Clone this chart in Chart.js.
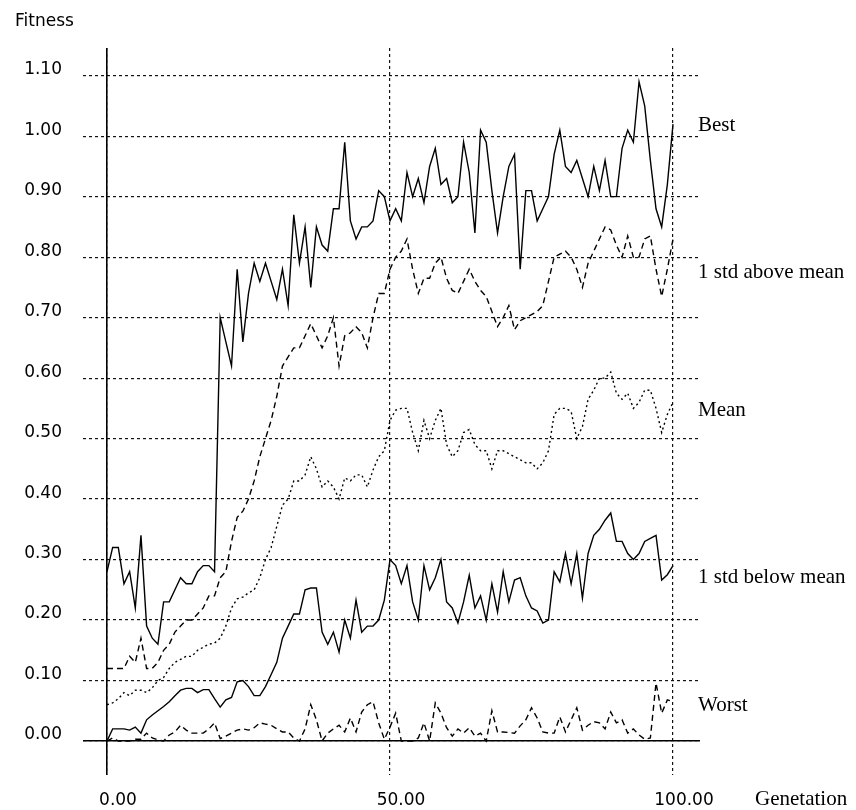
<!DOCTYPE html>
<html lang="en">
<head>
    <meta charset="UTF-8">
    <title>Fitness by Generation</title>
    <script src="https://cdn.jsdelivr.net/npm/chart.js"></script>
    <style>
        body { margin: 0; background: #fff; }
        canvas { display: block; }
    </style>
</head>
<body>

<canvas id="fitnessChart" width="856" height="810"></canvas>

<script>
// generations 0..100
const generations = [
    0, 1, 2, 3, 4, 5, 6, 7, 8, 9, 10, 11, 12, 13, 14, 15, 16, 17, 18, 19,
    20, 21, 22, 23, 24, 25, 26, 27, 28, 29, 30, 31, 32, 33, 34, 35, 36, 37, 38, 39,
    40, 41, 42, 43, 44, 45, 46, 47, 48, 49, 50, 51, 52, 53, 54, 55, 56, 57, 58, 59,
    60, 61, 62, 63, 64, 65, 66, 67, 68, 69, 70, 71, 72, 73, 74, 75, 76, 77, 78, 79,
    80, 81, 82, 83, 84, 85, 86, 87, 88, 89, 90, 91, 92, 93, 94, 95, 96, 97, 98, 99, 100
];

const best = [
    0.28, 0.32, 0.32, 0.26, 0.28, 0.22, 0.34, 0.19, 0.17, 0.16,
    0.23, 0.23, 0.25, 0.27, 0.26, 0.26, 0.28, 0.29, 0.29, 0.28,
    0.70, 0.66, 0.62, 0.78, 0.66, 0.74, 0.79, 0.76, 0.79, 0.76,
    0.73, 0.78, 0.72, 0.87, 0.79, 0.85, 0.75, 0.85, 0.82, 0.81,
    0.88, 0.88, 0.99, 0.86, 0.83, 0.85, 0.85, 0.86, 0.91, 0.90,
    0.86, 0.88, 0.86, 0.94, 0.90, 0.93, 0.89, 0.95, 0.98, 0.92,
    0.93, 0.89, 0.90, 0.99, 0.94, 0.84, 1.01, 0.99, 0.91, 0.84,
    0.90, 0.95, 0.97, 0.78, 0.91, 0.91, 0.86, 0.88, 0.90, 0.97,
    1.01, 0.95, 0.94, 0.96, 0.93, 0.90, 0.95, 0.91, 0.96, 0.90,
    0.90, 0.98, 1.01, 0.99, 1.09, 1.05, 0.96, 0.88, 0.85, 0.92, 1.02
];

const stdAbove = [
    0.12, 0.12, 0.12, 0.12, 0.14, 0.13, 0.17, 0.12, 0.12, 0.13,
    0.15, 0.16, 0.18, 0.19, 0.20, 0.20, 0.21, 0.22, 0.24, 0.24,
    0.27, 0.28, 0.33, 0.37, 0.38, 0.40, 0.43, 0.47, 0.50, 0.53,
    0.57, 0.62, 0.635, 0.65, 0.65, 0.67, 0.69, 0.67, 0.65, 0.67,
    0.70, 0.62, 0.67, 0.675, 0.685, 0.675, 0.65, 0.70, 0.74, 0.74,
    0.78, 0.80, 0.81, 0.83, 0.78, 0.74, 0.765, 0.765, 0.79, 0.80,
    0.765, 0.745, 0.74, 0.76, 0.78, 0.76, 0.745, 0.735, 0.71, 0.685,
    0.70, 0.72, 0.68, 0.695, 0.70, 0.705, 0.71, 0.72, 0.76, 0.80,
    0.805, 0.81, 0.80, 0.78, 0.75, 0.79, 0.81, 0.83, 0.85, 0.845,
    0.82, 0.80, 0.835, 0.80, 0.80, 0.83, 0.835, 0.78, 0.735, 0.78, 0.83
];

const mean = [
    0.06, 0.063, 0.07, 0.08, 0.075, 0.084, 0.084, 0.08, 0.088, 0.10,
    0.105, 0.12, 0.13, 0.135, 0.14, 0.14, 0.15, 0.155, 0.16, 0.162,
    0.17, 0.19, 0.22, 0.235, 0.238, 0.245, 0.25, 0.27, 0.30, 0.32,
    0.355, 0.39, 0.40, 0.43, 0.43, 0.44, 0.47, 0.45, 0.42, 0.43,
    0.42, 0.40, 0.435, 0.43, 0.44, 0.44, 0.42, 0.448, 0.47, 0.48,
    0.53, 0.547, 0.55, 0.55, 0.51, 0.48, 0.53, 0.50, 0.53, 0.55,
    0.49, 0.47, 0.48, 0.51, 0.515, 0.49, 0.48, 0.48, 0.45, 0.48,
    0.48, 0.475, 0.47, 0.465, 0.46, 0.46, 0.45, 0.46, 0.48, 0.54,
    0.55, 0.55, 0.545, 0.50, 0.52, 0.565, 0.58, 0.60, 0.60, 0.61,
    0.575, 0.565, 0.575, 0.55, 0.56, 0.58, 0.58, 0.55, 0.51, 0.54, 0.56
];

const stdBelow = [
    0.0, 0.02, 0.02, 0.02, 0.018, 0.023, 0.013, 0.035, 0.043, 0.05,
    0.057, 0.065, 0.075, 0.084, 0.087, 0.087, 0.08, 0.085, 0.085, 0.07,
    0.056, 0.068, 0.072, 0.098, 0.10, 0.09, 0.075, 0.075, 0.09, 0.11,
    0.13, 0.17, 0.19, 0.21, 0.21, 0.25, 0.253, 0.253, 0.18, 0.16,
    0.18, 0.147, 0.20, 0.17, 0.233, 0.18, 0.19, 0.19, 0.20, 0.233,
    0.30, 0.29, 0.26, 0.29, 0.23, 0.20, 0.29, 0.25, 0.27, 0.30,
    0.23, 0.22, 0.195, 0.23, 0.274, 0.22, 0.24, 0.20, 0.26, 0.213,
    0.28, 0.23, 0.266, 0.27, 0.24, 0.22, 0.215, 0.195, 0.20, 0.28,
    0.263, 0.31, 0.26, 0.31, 0.236, 0.31, 0.34, 0.35, 0.365, 0.377,
    0.33, 0.33, 0.31, 0.30, 0.31, 0.33, 0.335, 0.34, 0.266, 0.275, 0.29
];

const worst = [
    0.0, 0.005, 0.0, 0.0, 0.0, 0.003, 0.003, 0.013, 0.005, 0.002,
    0.0, 0.01, 0.015, 0.026, 0.018, 0.013, 0.013, 0.013, 0.02, 0.03,
    0.004, 0.008, 0.013, 0.018, 0.02, 0.018, 0.022, 0.03, 0.028, 0.026,
    0.02, 0.015, 0.015, 0.005, 0.0, 0.02, 0.06, 0.035, 0.0, 0.013,
    0.02, 0.026, 0.015, 0.038, 0.015, 0.048, 0.06, 0.065, 0.03, 0.003,
    0.023, 0.046, 0.0, 0.0, 0.0, 0.005, 0.03, 0.0, 0.063, 0.046,
    0.022, 0.008, 0.02, 0.013, 0.022, 0.008, 0.013, 0.0, 0.05, 0.015,
    0.015, 0.014, 0.013, 0.025, 0.035, 0.055, 0.038, 0.015, 0.013, 0.013,
    0.04, 0.015, 0.035, 0.055, 0.018, 0.026, 0.032, 0.03, 0.02, 0.048,
    0.03, 0.035, 0.013, 0.02, 0.01, 0.003, 0.005, 0.096, 0.046, 0.068, 0.065
];

const xTicks = [0, 50, 100];
const yTicks = [0, 0.1, 0.2, 0.3, 0.4, 0.5, 0.6, 0.7, 0.8, 0.9, 1.0, 1.1];

// pair every series with the generation numbers
function points(values) {
    return generations.map((g, i) => ({ x: g, y: values[i] }));
}

function line(label, values, dash) {
    return {
        label: label,
        data: points(values),
        borderColor: '#000',
        borderWidth: 1.4,
        borderDash: dash,
        pointRadius: 0,
        tension: 0,
        fill: false,
        xAxisID: 'x',
        yAxisID: 'y'
    };
}

const numFont = { family: 'DejaVu Sans', size: 17 };

// texts to the right of the plot and the two axis names
const textPlugin = {
    id: 'texts',
    afterDraw(chart) {
        const ctx = chart.ctx;
        ctx.save();
        ctx.fillStyle = '#000';
        ctx.textBaseline = 'middle';
        ctx.textAlign = 'left';
        ctx.font = '21px "Liberation Serif"';
        ctx.fillText('Best', 698, 125);
        ctx.fillText('1 std above mean', 698, 272);
        ctx.fillText('Mean', 698, 410);
        ctx.fillText('1 std below mean', 698, 577);
        ctx.fillText('Worst', 698, 705);
        ctx.fillText('Genetation', 755, 799);
        ctx.font = '17px "DejaVu Sans"';
        ctx.fillText('Fitness', 15, 22);
        ctx.restore();
    }
};

const ctx = document.getElementById('fitnessChart').getContext('2d');
const chart = new Chart(ctx, {
    type: 'line',
    data: {
        datasets: [
            line('Best', best, []),
            line('1 std above mean', stdAbove, [6, 4]),
            line('Mean', mean, [2, 3]),
            line('1 std below mean', stdBelow, []),
            line('Worst', worst, [6, 4])
        ]
    },
    options: {
        responsive: false,
        animation: false,
        layout: { padding: { top: 48, right: 156, left: 0, bottom: 0 } },
        plugins: {
            legend: { display: false },
            tooltip: { enabled: false }
        },
        scales: {
            x: {
                type: 'linear',
                position: 'bottom',
                min: -4.24,
                max: 104.77,
                afterBuildTicks: s => { s.ticks = xTicks.map(v => ({ value: v })); },
                afterFit: s => { s.height = 35; },
                grid: { color: '#111', lineWidth: 1.2, drawTicks: false },
                border: { display: false, dash: [3, 3] },
                ticks: {
                    font: numFont, color: '#000', padding: 15, labelOffset: 11,
                    maxRotation: 0, autoSkip: false,
                    callback: v => v.toFixed(2)
                }
            },
            y: {
                type: 'linear',
                position: 'left',
                min: -0.0562,
                max: 1.1458,
                afterBuildTicks: s => { s.ticks = yTicks.map(v => ({ value: v })); },
                afterFit: s => { s.width = 83; },
                grid: { color: '#111', lineWidth: 1.2, drawTicks: false },
                border: { display: false, dash: [3, 3] },
                ticks: {
                    font: numFont, color: '#000', padding: 21, labelOffset: -6,
                    autoSkip: false,
                    callback: v => v.toFixed(2)
                }
            },
            // solid axis lines through zero
            xZero: {
                type: 'linear',
                axis: 'x',
                position: 'bottom',
                min: -4.24,
                max: 104.77,
                afterBuildTicks: s => { s.ticks = [{ value: 0 }]; },
                afterFit: s => { s.height = 0; },
                grid: { color: '#000', lineWidth: 1.6, drawTicks: false },
                border: { display: false },
                ticks: { display: false }
            },
            yZero: {
                type: 'linear',
                axis: 'y',
                position: 'left',
                min: -0.0562,
                max: 1.1458,
                afterBuildTicks: s => { s.ticks = [{ value: 0 }]; },
                afterFit: s => { s.width = 0; },
                grid: { color: '#000', lineWidth: 1.6, drawTicks: false },
                border: { display: false },
                ticks: { display: false }
            }
        }
    },
    plugins: [textPlugin]
});
</script>
</body>
</html>
